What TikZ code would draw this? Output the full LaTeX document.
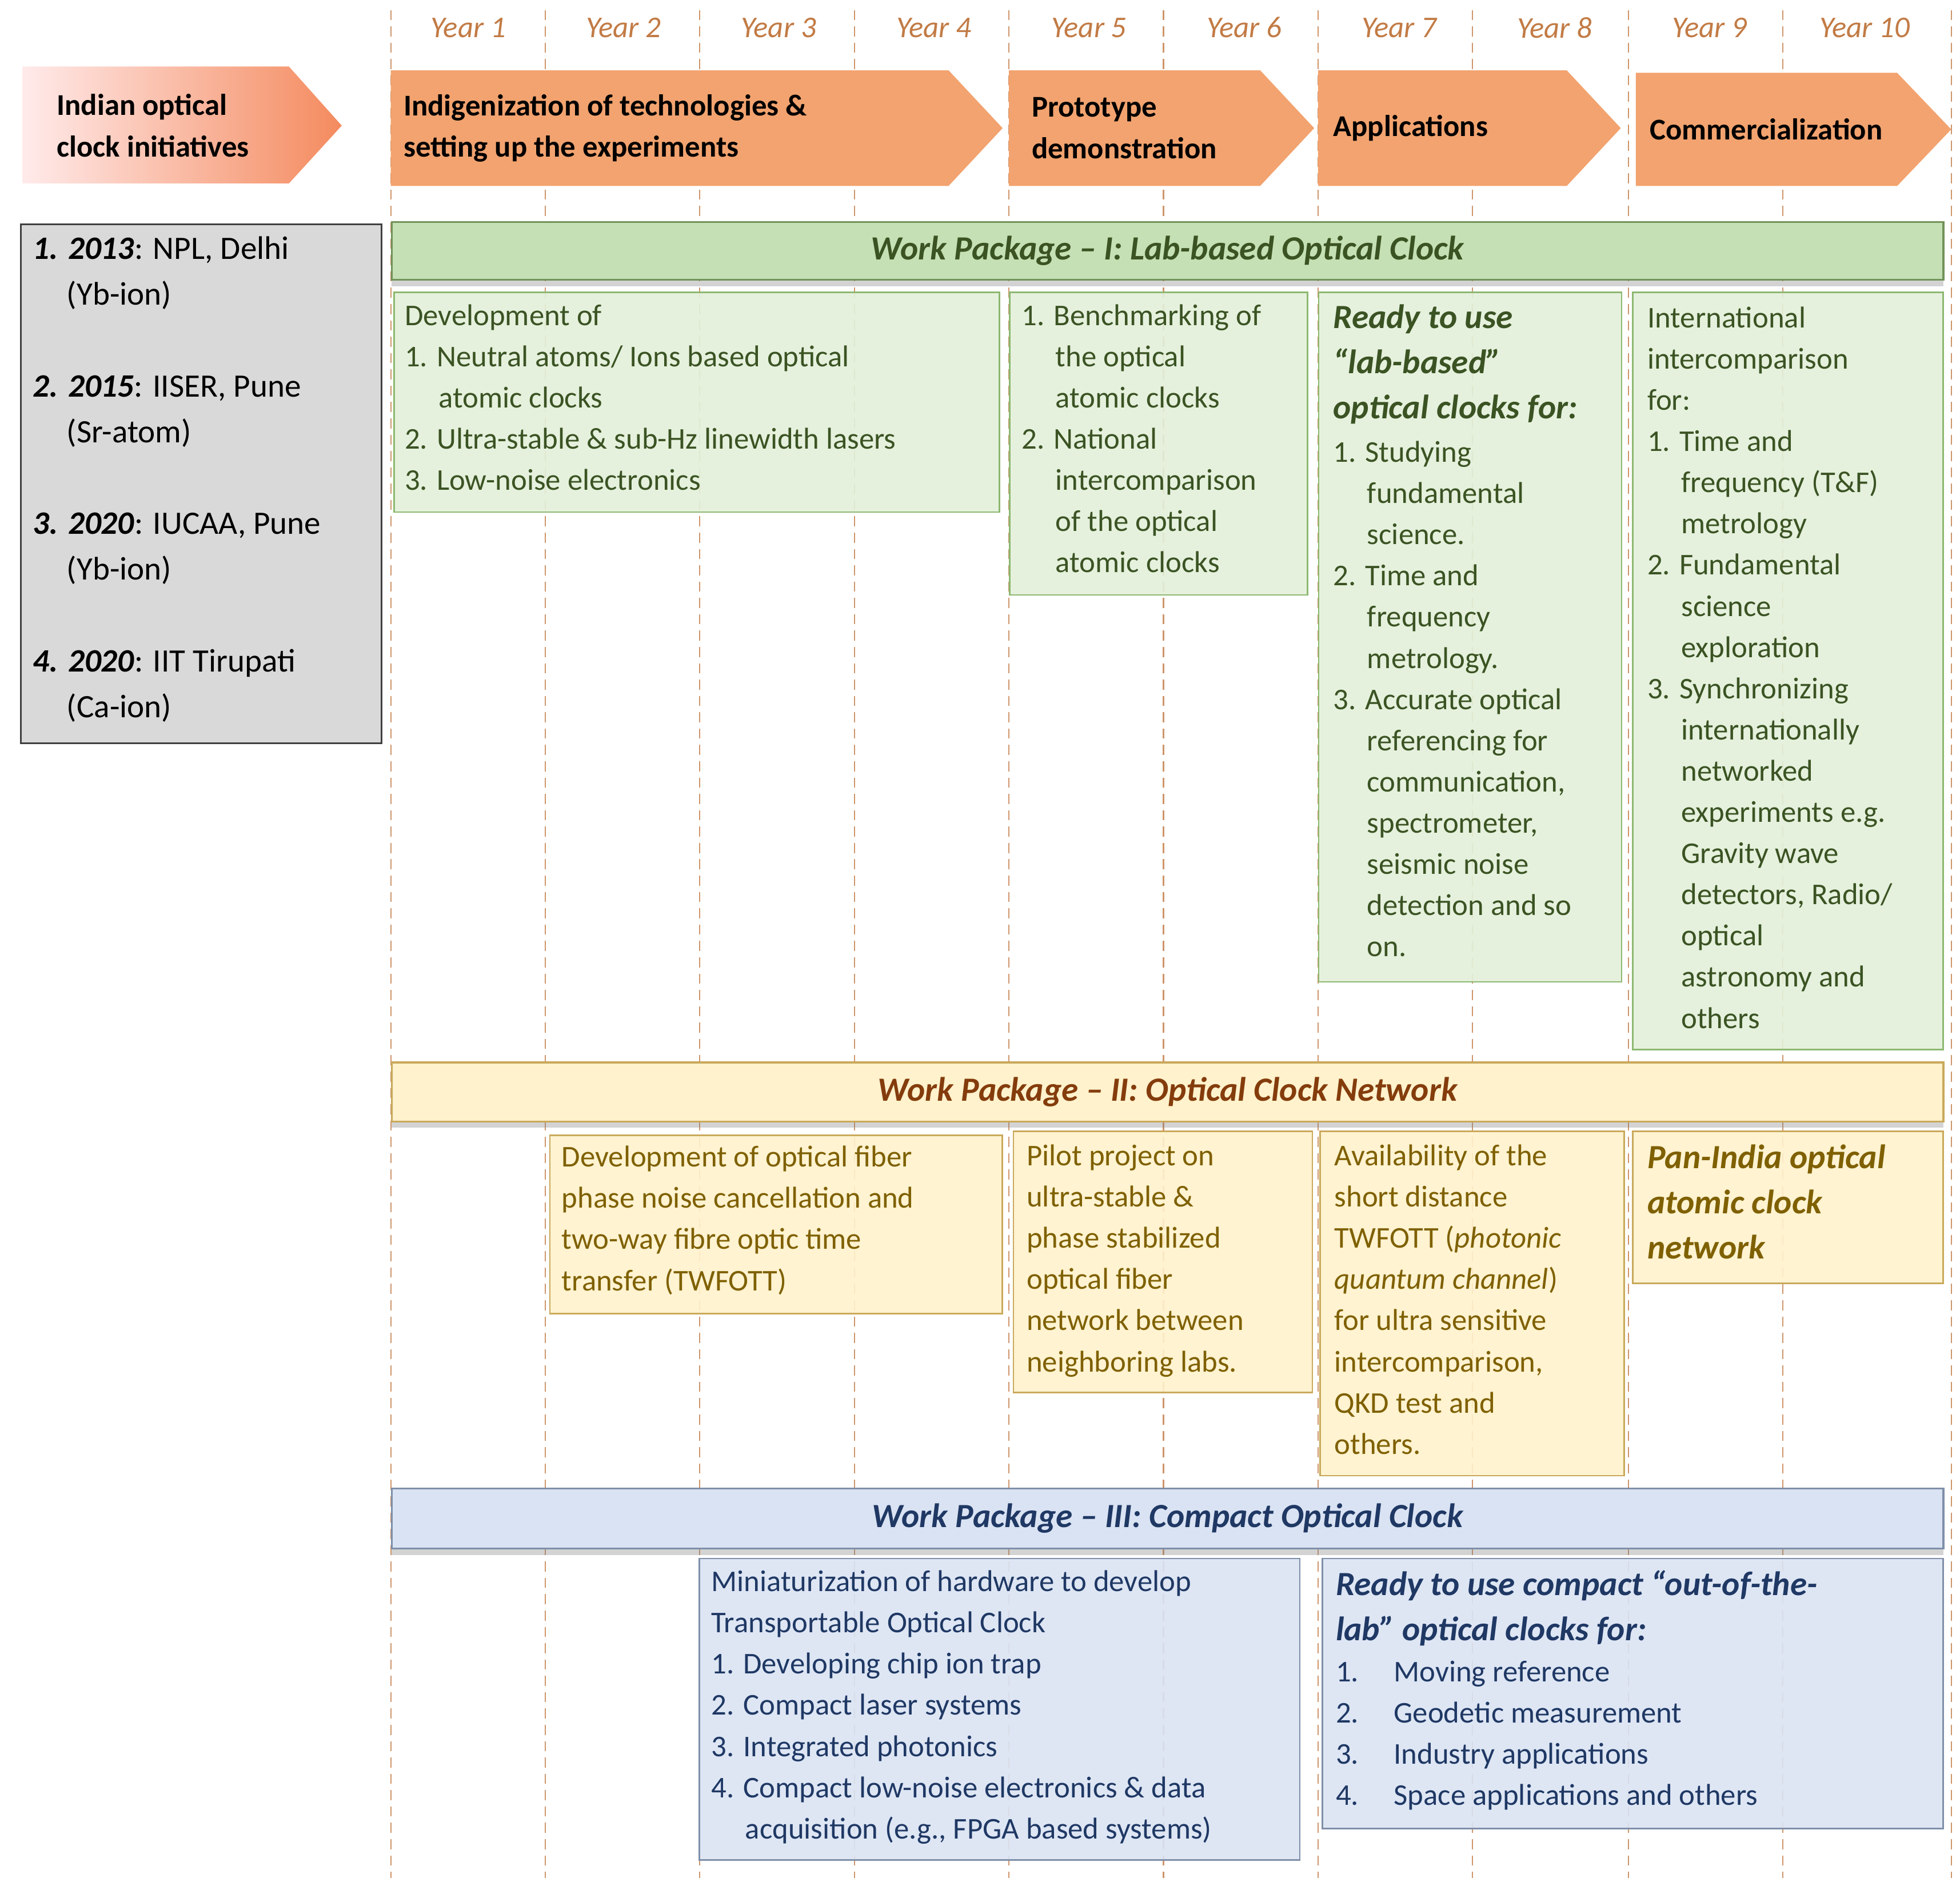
\documentclass[tikz,border=0pt]{standalone}
\usepackage{fontspec}
\setmainfont{Carlito}
\usetikzlibrary{shadows}
\definecolor{yr}{HTML}{C27B45}
\definecolor{arr}{HTML}{F2A36F}
\definecolor{gfill}{HTML}{E2F0D9}\definecolor{gbar}{HTML}{C5E0B4}\definecolor{gline}{HTML}{8DB870}\definecolor{gtxt}{HTML}{3B5323}
\definecolor{yfill}{HTML}{FFF2CC}\definecolor{yline}{HTML}{C9A95B}\definecolor{ytxt}{HTML}{7F6000}\definecolor{ybtxt}{HTML}{843C0C}
\definecolor{bfill}{HTML}{DAE3F3}\definecolor{bline}{HTML}{7F8FA9}\definecolor{btxt}{HTML}{1F3864}
\newcommand{\bodyf}{\fontsize{24}{32.8}\selectfont}
\newcommand{\bigf}{\fontsize{27}{36}\selectfont}
\newcommand{\ind}{\hspace*{27pt}}
\begin{document}
\begin{tikzpicture}[x=1pt,y=-1pt,
  yl/.style={font=\fontsize{24}{28}\selectfont\itshape, text=yr},
  vl/.style={draw=yr!80, dash pattern=on 8pt off 5pt, line width=1pt},
  chev/.style={fill=arr},
  atxt/.style={font=\fontsize{24}{33}\selectfont\bfseries, align=left, anchor=west, inner sep=0pt},
  box/.style={draw, line width=1.2pt, anchor=north west, inner sep=0pt, fill opacity=0.9},
  bar/.style={draw, line width=1.5pt, anchor=north west, inner sep=0pt, drop shadow={shadow xshift=0pt, shadow yshift=-5pt, opacity=0.35}},
  bt/.style={font=\bodyf, align=left, anchor=north west, inner sep=0pt},
  wpt/.style={font=\bigf\bfseries\itshape}]
\useasboundingbox (0,0) rectangle (1560,1498);
% vertical dashed lines
\foreach \x [count=\i] in {311,434,557,680,803,926,1049,1172,1296,1419,1553}{
  \coordinate (t\i) at (\x,8); \coordinate (b\i) at (\x,1495);
  \draw[vl] (t\i) -- (b\i);}
\foreach \i [evaluate=\i as \xc using {311+123.5*(\i-0.5)}] in {1,...,10}
  \node[yl] (y\i) at (\xc,22) {Year \i};
% top arrows
\shade[left color=red!8!white, right color=arr!85!red] (18,53) -- (230,53) -- (272,100) -- (230,146) -- (18,146) -- cycle;
\node[atxt] (a0) at (45,100) {Indian optical\\clock initiatives};
\fill[chev] (311,56) -- (755,56) -- (798,102) -- (755,148) -- (311,148) -- cycle;
\node[atxt] (a1) at (321,102) {Indigenization of technologies \&\\setting up the experiments};
\fill[chev] (803,56) -- (1003,56) -- (1046,102) -- (1003,148) -- (803,148) -- cycle;
\node[atxt] (a2) at (821,102) {Prototype\\demonstration};
\fill[chev] (1049,56) -- (1247,56) -- (1290,102) -- (1247,148) -- (1049,148) -- cycle;
\node[atxt] (a3) at (1061,102) {Applications};
\fill[chev] (1302,58) -- (1510,58) -- (1553,103) -- (1510,148) -- (1302,148) -- cycle;
\node[atxt] (a4) at (1313,103) {Commercialization};
% left grey box
\node[box, draw=black!75, fill=black!15, fill opacity=1, minimum width=287pt, minimum height=413pt] (lb) at (16,178) {};
\node[font=\fontsize{26}{36.5}\selectfont, align=left, anchor=north west, inner sep=0pt] (lt) at (26,188) {%
\textbf{\textit{1. 2013}}: NPL, Delhi\\\hspace*{27pt}(Yb-ion)\\[36.5pt]
\textbf{\textit{2. 2015}}: IISER, Pune\\\hspace*{27pt}(Sr-atom)\\[36.5pt]
\textbf{\textit{3. 2020}}: IUCAA, Pune\\\hspace*{27pt}(Yb-ion)\\[36.5pt]
\textbf{\textit{4. 2020}}: IIT Tirupati\\\hspace*{27pt}(Ca-ion)};
% WP I
\node[bar, draw=gline!80!black, fill=gbar, minimum width=1235pt, minimum height=46pt] (wp1) at (311,176) {};
\node[wpt, text=gtxt] (wp1t) at (wp1.center) {Work Package -- I: Lab-based Optical Clock};
\node[box, draw=gline, fill=gfill, minimum width=482pt, minimum height=175pt] (g1) at (313,232) {};
\node[bt, text=gtxt] (g1t) at (322,242) {Development of\\1. Neutral atoms/ Ions based optical\\\ind atomic clocks\\2. Ultra-stable \& sub-Hz linewidth lasers\\3. Low-noise electronics};
\node[box, draw=gline, fill=gfill, minimum width=237pt, minimum height=241pt] (g2) at (803,232) {};
\node[bt, text=gtxt] (g2t) at (813,242) {1. Benchmarking of\\\ind the optical\\\ind atomic clocks\\2. National\\\ind intercomparison\\\ind of the optical\\\ind atomic clocks};
\node[box, draw=gline, fill=gfill, minimum width=241pt, minimum height=549pt] (g3) at (1049,232) {};
\node[bt, font=\bigf\bfseries\itshape, text=gtxt] (g3h) at (1061,242) {Ready to use\\“lab-based”\\optical clocks for:};
\node[bt, text=gtxt] (g3t) at (1061,351) {1. Studying\\\ind fundamental\\\ind science.\\2. Time and\\\ind frequency\\\ind metrology.\\3. Accurate optical\\\ind referencing for\\\ind communication,\\\ind spectrometer,\\\ind seismic noise\\\ind detection and so\\\ind on.};
\node[box, draw=gline, fill=gfill, minimum width=247pt, minimum height=603pt] (g4) at (1299,232) {};
\node[bt, text=gtxt] (g4t) at (1311,244) {International\\intercomparison\\for:\\1. Time and\\\ind frequency (T\&F)\\\ind metrology\\2. Fundamental\\\ind science\\\ind exploration\\3. Synchronizing\\\ind internationally\\\ind networked\\\ind experiments e.g.\\\ind Gravity wave\\\ind detectors, Radio/\\\ind optical\\\ind astronomy and\\\ind others};
% WP II
\node[bar, draw=yline, fill=yfill, minimum width=1235pt, minimum height=47pt] (wp2) at (311,845) {};
\node[wpt, text=ybtxt] (wp2t) at (wp2.center) {Work Package -- II: Optical Clock Network};
\node[box, draw=yline, fill=yfill, minimum width=360pt, minimum height=142pt] (y1) at (437,903) {};
\node[bt, text=ytxt] (y1t) at (447,912) {Development of optical fiber\\phase noise cancellation and\\two-way fibre optic time\\transfer (TWFOTT)};
\node[box, draw=yline, fill=yfill, minimum width=238pt, minimum height=208pt] (y2) at (806,900) {};
\node[bt, text=ytxt] (y2t) at (817,911) {Pilot project on\\ultra-stable \&\\phase stabilized\\optical fiber\\network between\\neighboring labs.};
\node[box, draw=yline, fill=yfill, minimum width=242pt, minimum height=274pt] (y3) at (1050,900) {};
\node[bt, text=ytxt] (y3t) at (1062,911) {Availability of the\\short distance\\TWFOTT (\textit{photonic}\\\textit{quantum channel})\\for ultra sensitive\\intercomparison,\\QKD test and\\others.};
\node[box, draw=yline, fill=yfill, minimum width=247pt, minimum height=121pt] (y4) at (1299,900) {};
\node[bt, font=\bigf\bfseries\itshape, text=ytxt] (y4t) at (1311,911) {Pan-India optical\\atomic clock\\network};
% WP III
\node[bar, draw=bline, fill=bfill, minimum width=1235pt, minimum height=48pt] (wp3) at (311,1184) {};
\node[wpt, text=btxt] (wp3t) at (wp3.center) {Work Package -- III: Compact Optical Clock};
\node[box, draw=bline, fill=bfill, minimum width=478pt, minimum height=240pt] (c1) at (556,1240) {};
\node[bt, text=btxt] (c1t) at (566,1250) {Miniaturization of hardware to develop\\Transportable Optical Clock\\1. Developing chip ion trap\\2. Compact laser systems\\3. Integrated photonics\\4. Compact low-noise electronics \& data\\\ind acquisition (e.g., FPGA based systems)};
\node[box, draw=bline, fill=bfill, minimum width=494pt, minimum height=215pt] (c2) at (1052,1240) {};
\node[bt, font=\bigf\bfseries\itshape, text=btxt] (c2h) at (1063,1250) {Ready to use compact “out-of-the-\\lab” optical clocks for:};
\node[bt, text=btxt] (c2t) at (1063,1322) {1.\hspace*{28pt}Moving reference\\2.\hspace*{28pt}Geodetic measurement\\3.\hspace*{28pt}Industry applications\\4.\hspace*{28pt}Space applications and others};
\end{tikzpicture}
\end{document}
